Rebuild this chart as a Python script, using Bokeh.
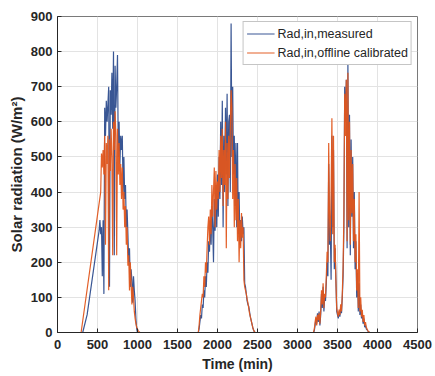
from bokeh.plotting import figure
from bokeh.models import (Range1d, FixedTicker, Legend, LegendItem, ColumnDataSource)
from bokeh.embed import file_html
from bokeh.resources import INLINE

# ---------------- data ----------------
x_ticks = [0, 500, 1000, 1500, 2000, 2500, 3000, 3500, 4000, 4500]
y_ticks = [0, 100, 200, 300, 400, 500, 600, 700, 800, 900]

# sampling grids (min) for the three daytime periods
t_day1 = list(range(550, 1050, 10))
t_day2 = list(range(1750, 2480, 10))
t_day3 = list(range(3200, 3910, 10))

# measured series
meas_lead_t = [0, 315, 370, 520, 530, 540]
meas_lead_v = [0, 0, 50, 290, 320, 280]
meas_day1 = [300, 160, 320, 110, 640, 560, 660, 600, 650, 700,
             130, 690, 620, 740, 580, 800, 220, 760, 640, 700,
             790, 500, 600, 480, 560, 520, 560, 400, 500, 380,
             420, 300, 350, 280, 200, 240, 130, 180, 150, 85,
             160, 120, 90, 40, 10, 0, 0, 0, 0, 0]
meas_day2 = [0, 0, 10, 30, 50, 40, 80, 70, 120, 100,
             160, 130, 200, 170, 260, 230, 320, 250, 360, 300,
             200, 380, 290, 420, 300, 450, 330, 500, 380, 600,
             420, 660, 300, 560, 400, 640, 450, 680, 360, 600,
             620, 400, 880, 500, 700, 450, 560, 360, 540, 300,
             540, 280, 400, 250, 320, 260, 330, 280, 300, 140,
             130, 110, 90, 80, 75, 60, 45, 35, 25, 15,
             8, 2, 0]
meas_day3 = [0, 5, 20, 40, 25, 55, 30, 60, 20, 50,
             110, 70, 130, 60, 100, 90, 140, 200, 160, 480,
             250, 300, 150, 560, 300, 520, 180, 240, 150, 60,
             50, 40, 60, 45, 70, 55, 100, 160, 300, 700,
             600, 720, 240, 770, 300, 620, 220, 550, 330, 500,
             240, 400, 180, 260, 100, 170, 60, 140, 50, 80,
             40, 55, 25, 40, 15, 20, 10, 8, 4, 2,
             0]

# offline calibrated series
cal_lead_t = [0, 295, 540]
cal_lead_v = [0, 0, 400]
cal_day1 = [510, 470, 520, 450, 560, 250, 540, 480, 560, 120,
            550, 460, 580, 500, 220, 600, 520, 630, 560, 220,
            580, 450, 540, 420, 480, 380, 470, 350, 400, 300,
            360, 250, 300, 190, 220, 120, 200, 140, 80, 130,
            100, 60, 40, 25, 15, 10, 5, 2, 0, 0]
cal_day2 = [0, 0, 20, 50, 70, 90, 110, 100, 160, 130,
            200, 170, 240, 300, 330, 250, 350, 280, 420, 330,
            400, 470, 300, 460, 350, 430, 380, 520, 400, 560,
            440, 580, 360, 520, 420, 600, 240, 540, 380, 560,
            440, 580, 690, 640, 380, 520, 300, 480, 320, 440,
            260, 380, 200, 320, 240, 340, 270, 300, 150, 130,
            120, 110, 95, 85, 70, 55, 45, 35, 25, 15,
            8, 3, 0]
cal_day3 = [0, 10, 30, 45, 20, 50, 35, 55, 25, 60,
            120, 80, 140, 70, 110, 100, 160, 230, 200, 540,
            330, 260, 400, 610, 280, 560, 200, 250, 150, 70,
            55, 45, 65, 50, 80, 60, 110, 190, 340, 680,
            560, 720, 260, 740, 320, 600, 250, 520, 340, 480,
            260, 380, 200, 280, 120, 180, 70, 400, 60, 100,
            45, 65, 30, 50, 20, 30, 15, 10, 5, 2,
            0]

end_t = [4500]
end_v = [0]

meas_t = meas_lead_t + t_day1 + t_day2 + t_day3 + end_t
meas_v = meas_lead_v + meas_day1 + meas_day2 + meas_day3 + end_v
cal_t = cal_lead_t + t_day1 + t_day2 + t_day3 + end_t
cal_v = cal_lead_v + cal_day1 + cal_day2 + cal_day3 + end_v

# ---------------- figure ----------------
FONT = "Liberation Sans"
DARK = "#262626"
BLUE = "#2E4D8E"
ORANGE = "#E0561C"

p = figure(frame_width=360, frame_height=316,
           x_range=Range1d(0, 4500), y_range=Range1d(0, 900),
           output_backend="svg", toolbar_location=None,
           min_border_left=57, min_border_right=18,
           min_border_top=16, min_border_bottom=44)
p.background_fill_color = "white"
p.border_fill_color = "white"
p.outline_line_color = "#7a7a7a"
p.outline_line_width = 1

src_m = ColumnDataSource(dict(t=meas_t, v=meas_v))
src_c = ColumnDataSource(dict(t=cal_t, v=cal_v))
r1 = p.line("t", "v", source=src_m, line_color=BLUE, line_width=1.2, line_alpha=0.95)
r2 = p.line("t", "v", source=src_c, line_color=ORANGE, line_width=1.2, line_alpha=0.95)

for ax in (p.xaxis[0], p.yaxis[0]):
    ax.major_tick_in = 4
    ax.major_tick_out = 0
    ax.minor_tick_line_color = None
    ax.axis_line_color = DARK
    ax.major_tick_line_color = DARK
    ax.major_label_text_font = FONT
    ax.major_label_text_font_style = "bold"
    ax.major_label_text_font_size = "13px"
    ax.major_label_text_color = DARK
    ax.axis_label_text_font = FONT
    ax.axis_label_text_font_style = "bold"
    ax.axis_label_text_color = DARK

p.xaxis.ticker = FixedTicker(ticks=x_ticks)
p.yaxis.ticker = FixedTicker(ticks=y_ticks)
p.xaxis.major_label_standoff = 7
p.yaxis.major_label_standoff = 5
p.xaxis.axis_label = "Time (min)"
p.xaxis.axis_label_text_font_size = "14px"
p.xaxis.axis_label_standoff = 4
p.yaxis.axis_label = "Solar radiation (W/m\u00b2)"
p.yaxis.axis_label_text_font_size = "15px"
p.yaxis.axis_label_standoff = 3

p.xgrid.ticker = FixedTicker(ticks=x_ticks)
p.ygrid.ticker = FixedTicker(ticks=y_ticks)
p.grid.grid_line_color = "#E3E3E3"
p.grid.grid_line_width = 1

legend = Legend(items=[LegendItem(label="Rad,in,measured", renderers=[r1]),
                       LegendItem(label="Rad,in,offline calibrated", renderers=[r2])],
                location="top_right")
legend.border_line_color = "#8c8c8c"
legend.border_line_width = 1
legend.background_fill_color = "white"
legend.background_fill_alpha = 1.0
legend.label_text_font = FONT
legend.label_text_font_size = "12.5px"
legend.label_text_color = DARK
legend.glyph_width = 28
legend.glyph_height = 17
legend.label_height = 17
legend.spacing = 2
legend.padding = 3
legend.margin = 5
legend.label_standoff = 3
p.add_layout(legend)

open("out.html", "w").write(file_html(p, INLINE))
